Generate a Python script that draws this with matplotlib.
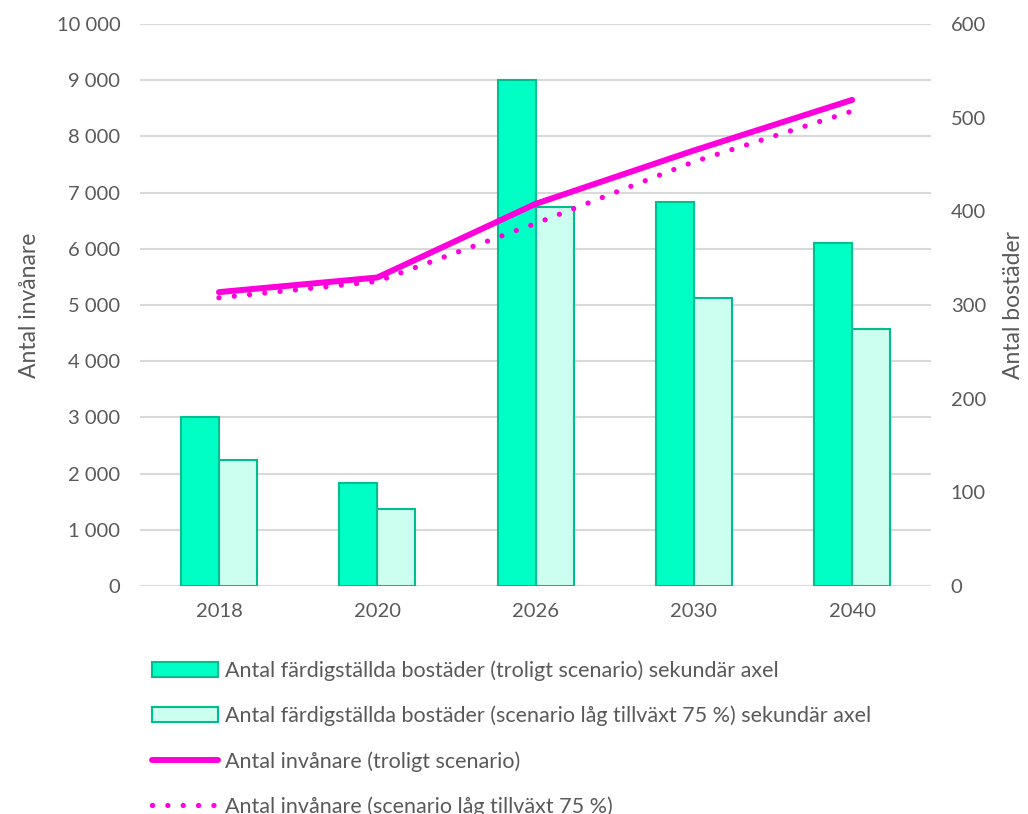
import matplotlib.pyplot as plt
import numpy as np
from matplotlib.ticker import FuncFormatter

plt.rcParams['font.family'] = ['Lato', 'DejaVu Sans']

# data
ar = ['2018', '2020', '2026', '2030', '2040']
bostader_troligt = [180, 110, 540, 410, 366]
bostader_lag = [135, 82.5, 405, 307.5, 274.5]
invanare_troligt = [5230, 5490, 6800, 7750, 8650]
invanare_lag = [5130, 5420, 6450, 7550, 8450]

gra = '#595959'
gron = '#00FFC5'
ljusgron = '#CCFFF0'
kant = '#00BF8F'
magenta = '#FF00DD'

fig = plt.figure(figsize=(10.28, 8.14), dpi=100)
ax = fig.add_axes([0.136, 0.28, 0.77, 0.6905])
ax2 = ax.twinx()
ax3 = ax.twinx()

x = np.arange(len(ar))
b = 0.24
s1 = ax2.bar(x - b / 2, bostader_troligt, b, color=gron, edgecolor=kant, linewidth=1.5,
             label='Antal färdigställda bostäder (troligt scenario) sekundär axel')
s2 = ax2.bar(x + b / 2, bostader_lag, b, color=ljusgron, edgecolor=kant, linewidth=1.5,
             label='Antal färdigställda bostäder (scenario låg tillväxt 75 %) sekundär axel')
l1, = ax3.plot(x, invanare_troligt, color=magenta, linewidth=4.3, solid_capstyle='round',
               label='Antal invånare (troligt scenario)')
l2, = ax3.plot(x, invanare_lag, color=magenta, linewidth=3.8, linestyle=(0, (0.01, 2.9)),
               dash_capstyle='round', label='Antal invånare (scenario låg tillväxt 75 %)')

ax.set_ylim(0, 10000)
ax.set_yticks(range(0, 10001, 1000))
ax.yaxis.set_major_formatter(FuncFormatter(lambda v, p: f'{int(v):,}'.replace(',', ' ')))
ax.grid(axis='y', color='#D9D9D9', linewidth=1.5)
ax.set_axisbelow(True)
ax.set_xlim(-0.5, len(ar) - 0.5)
ax.set_xticks(x)
ax.set_xticklabels(ar)

ax2.set_ylim(0, 600)
ax2.set_yticks(range(0, 601, 100))
ax3.set_ylim(0, 10000)
ax3.set_yticks([])

for a in (ax, ax2, ax3):
    for sp in a.spines.values():
        sp.set_visible(False)
    a.tick_params(length=0, labelsize=14.5, colors=gra)
ax.tick_params(axis='y', pad=14)
ax.tick_params(axis='x', pad=12)
ax2.tick_params(axis='y', pad=14)

ax.set_ylabel('Antal invånare', fontsize=16.5, color=gra, labelpad=12)
ax2.set_ylabel('Antal bostäder', fontsize=16.5, color=gra, labelpad=12)

fig.legend(handles=[s1, s2, l1, l2], loc='upper left', bbox_to_anchor=(0.137, 0.202),
           frameon=False, fontsize=15.5, labelcolor=gra, handlelength=3.1,
           labelspacing=1.15, handletextpad=0.3, borderpad=0)

fig.savefig('out.png', dpi=100)
